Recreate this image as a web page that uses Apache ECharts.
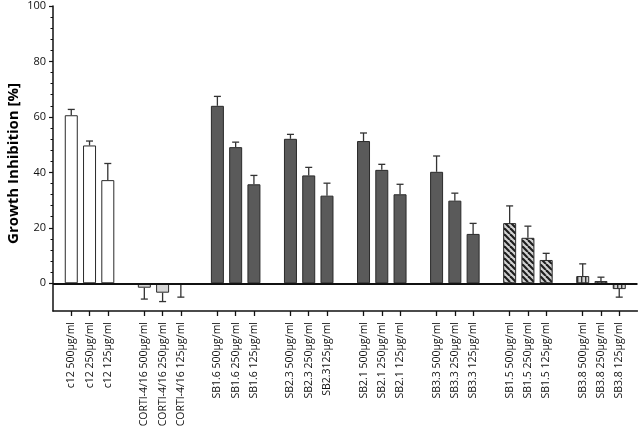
<!DOCTYPE html>
<html><head><meta charset="utf-8">
<script src="https://cdn.jsdelivr.net/npm/echarts@6/dist/echarts.min.js"></script>
<style>html,body{margin:0;padding:0;background:#fff}#c{width:638px;height:429px}</style>
</head><body><div id="c"></div>
<script>
// ---- data ----
const groups = ['c12', 'CORTI-4/16', 'SB1.6', 'SB2.3', 'SB2.1', 'SB3.3', 'SB1.5', 'SB3.8'];
const groupStyle = ['white', 'light', 'dark', 'dark', 'dark', 'dark', 'hatch', 'vstripe'];
const labels = [
  'c12 500µg/ml', 'c12 250µg/ml', 'c12 125µg/ml',
  'CORTI-4/16 500µg/ml', 'CORTI-4/16 250µg/ml', 'CORTI-4/16 125µg/ml',
  'SB1.6 500µg/ml', 'SB1.6 250µg/ml', 'SB1.6 125µg/ml',
  'SB2.3 500µg/ml', 'SB2.3 250µg/ml', 'SB2.3125µg/ml',
  'SB2.1 500µg/ml', 'SB2.1 250µg/ml', 'SB2.1 125µg/ml',
  'SB3.3 500µg/ml', 'SB3.3 250µg/ml', 'SB3.3 125µg/ml',
  'SB1.5 500µg/ml', 'SB1.5 250µg/ml', 'SB1.5 125µg/ml',
  'SB3.8 500µg/ml', 'SB3.8 250µg/ml', 'SB3.8 125µg/ml'
];
const values = [
  60.6, 49.7, 37.2,
  -1.6, -3.4, -0.2,
  64.0, 49.1, 35.7,
  52.1, 38.9, 31.6,
  51.3, 40.9, 32.1,
  40.2, 29.8, 17.8,
  21.7, 16.4, 8.4,
  2.6, 0.8, -2.1
];
const errors = [
  2.1, 1.6, 6.0,
  4.1, 3.2, 4.8,
  3.4, 1.8, 3.2,
  1.6, 2.9, 4.5,
  2.9, 2.0, 3.6,
  5.7, 2.7, 3.8,
  6.2, 4.2, 2.4,
  4.4, 1.4, 2.9
];
const yTicks = [0, 20, 40, 60, 80, 100];
const yMinorTicks = [4, 8, 12, 16, 24, 28, 32, 36, 44, 48, 52, 56, 64, 68, 72, 76, 84, 88, 92, 96];
const yMin = -10, yMax = 100;

// ---- patterns ----
function hatchPattern() {
  const s = 6, c = document.createElement('canvas');
  c.width = s; c.height = s;
  const g = c.getContext('2d');
  g.fillStyle = '#d2d2d2'; g.fillRect(0, 0, s, s);
  g.strokeStyle = '#1e1e1e'; g.lineWidth = 2.2;
  for (let k = -1; k <= 1; k++) {
    g.beginPath(); g.moveTo(k * s, 0); g.lineTo(k * s + s, s); g.stroke();
  }
  return c;
}
function vstripePattern() {
  const c = document.createElement('canvas');
  c.width = 4; c.height = 4;
  const g = c.getContext('2d');
  g.fillStyle = '#d2d2d2'; g.fillRect(0, 0, 4, 4);
  g.fillStyle = '#333'; g.fillRect(1, 0, 1.4, 4);
  return c;
}
const fills = {
  white: '#ffffff',
  light: '#d6d6d6',
  dark: '#5a5a5a',
  hatch: { image: hatchPattern(), repeat: 'repeat' },
  vstripe: { image: vstripePattern(), repeat: 'repeat' }
};

// ---- build category axis with blank separators ----
const cats = [''];
const catIndex = [];
groups.forEach((g, gi) => {
  for (let i = 0; i < 3; i++) {
    catIndex.push(cats.length);
    cats.push(labels[gi * 3 + i]);
  }
  cats.push('');
});

const barData = values.map((v, i) => ({
  value: [catIndex[i], v],
  itemStyle: { color: fills[groupStyle[Math.floor(i / 3)]] }
}));
const errData = values.map((v, i) => [catIndex[i], v, errors[i]]);

const font = 'Open Sans';
const chart = echarts.init(document.getElementById('c'), null, { renderer: 'canvas' });
chart.setOption({
  animation: false,
  backgroundColor: '#fff',
  grid: { left: 53, right: 0.5, top: 6, bottom: 118, containLabel: false, outerBoundsMode: 'none' },
  xAxis: {
    type: 'category',
    data: cats,
    boundaryGap: false,
    axisLine: { onZero: false, lineStyle: { color: '#111', width: 1.5 } },
    axisTick: {
      show: true, length: 5, alignWithLabel: true,
      interval: (idx, val) => val !== '',
      lineStyle: { color: '#111', width: 1.3 }
    },
    axisLabel: {
      interval: 0, rotate: 90, margin: 11,
      fontFamily: font, fontSize: 10.5, color: '#111'
    },
    splitLine: { show: false }
  },
  yAxis: [{
    type: 'value', min: yMin, max: yMax,
    name: 'Growth Inhibition [%]', nameLocation: 'middle', nameRotate: 90, nameGap: 32,
    nameMoveOverlap: false,
    nameTextStyle: { fontFamily: font, fontSize: 15, fontWeight: 'bold', color: '#000', padding: [0, 10, 0, 0] },
    axisLine: { show: true, lineStyle: { color: '#111', width: 1.5 } },
    axisTick: { show: true, length: 4, customValues: yTicks, lineStyle: { color: '#111', width: 1.2 } },
    axisLabel: { customValues: yTicks, margin: 7, fontFamily: font, fontSize: 11, color: '#111' },
    splitLine: { show: false }
  }, {
    type: 'value', min: yMin, max: yMax, position: 'left',
    axisLine: { show: false },
    axisTick: { show: true, length: 2.5, customValues: yMinorTicks, lineStyle: { color: '#111', width: 1 } },
    axisLabel: { show: false },
    splitLine: { show: false }
  }],
  series: [{
    type: 'bar',
    data: barData,
    barWidth: 13,
    itemStyle: { borderColor: '#2a2a2a', borderWidth: 1 },
    z: 2
  }, {
    type: 'custom',
    data: errData,
    z: 3,
    renderItem(params, api) {
      const x = api.value(0), v = api.value(1), e = api.value(2);
      const end = v >= 0 ? v + e : v - e;
      const p0 = api.coord([x, v]);
      const p1 = api.coord([x, end]);
      const st = { stroke: '#333', lineWidth: 1.3 };
      return {
        type: 'group', children: [
          { type: 'line', shape: { x1: p0[0], y1: p0[1], x2: p1[0], y2: p1[1] }, style: st },
          { type: 'line', shape: { x1: p1[0] - 3.5, y1: p1[1], x2: p1[0] + 3.5, y2: p1[1] }, style: st }
        ]
      };
    },
    markLine: {
      silent: true, symbol: 'none',
      label: { show: false },
      lineStyle: { type: 'solid', color: '#111', width: 1.8 },
      data: [{ yAxis: 0 }]
    }
  }]
});
</script>
</body></html>
